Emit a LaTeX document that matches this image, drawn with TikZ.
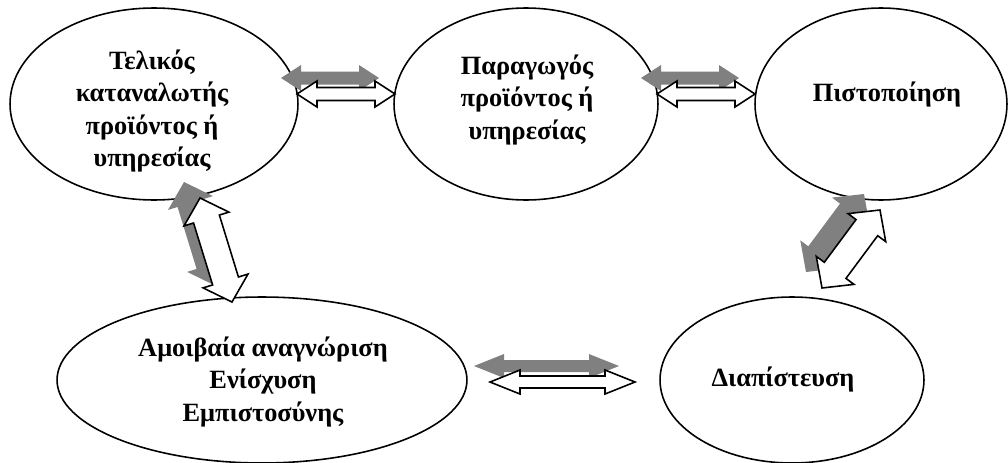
\documentclass[tikz,border=0pt]{standalone}
\usepackage{fontspec}
\setmainfont{Liberation Serif}
\usetikzlibrary{calc,positioning,shapes.geometric}

\tikzset{
  bubble/.style={draw,ellipse,line width=0.9pt,inner sep=0pt},
  lbl/.style={font=\fontsize{15}{18.5}\selectfont\bfseries,align=center},
  shade/.style={fill=black!50},
  front/.style={draw,fill=white,line width=0.9pt,line join=miter},
}

% block double arrow: #1,#2 tips, #3 head length, #4 head half width, #5 shaft half width, #6 style
\newcommand{\arrowpath}[6]{%
  \path[#6] (#1) -- ($(#1)!#3!(#2)!#4!90:(#2)$) -- ($(#1)!#3!(#2)!#5!90:(#2)$)
    -- ($(#2)!#3!(#1)!#5!-90:(#1)$) -- ($(#2)!#3!(#1)!#4!-90:(#1)$) -- (#2)
    -- ($(#2)!#3!(#1)!#4!90:(#1)$) -- ($(#2)!#3!(#1)!#5!90:(#1)$)
    -- ($(#1)!#3!(#2)!#5!-90:(#2)$) -- ($(#1)!#3!(#2)!#4!-90:(#2)$) -- cycle;}
% white arrow with its grey shadow up left
\newcommand{\blockarrow}[5]{%
  \coordinate (sa) at ($(#1)+(-0.32cm,0.32cm)$);
  \coordinate (sb) at ($(#2)+(-0.32cm,0.32cm)$);
  \arrowpath{sa}{sb}{#3}{#4}{#5}{shade}
  \arrowpath{#1}{#2}{#3}{#4}{#5}{front}}

\begin{document}
\begin{tikzpicture}[x=0.02cm,y=-0.02cm]
  \useasboundingbox (0,0) rectangle (1008,463);

  \node[bubble,minimum width=5.76cm,minimum height=3.84cm] (cons) at (154,104) {};
  \node[bubble,minimum width=5.28cm,minimum height=3.84cm] (prod) at (526,104) {};
  \node[bubble,minimum width=5.04cm,minimum height=3.84cm] (cert) at (881,104) {};
  \node[bubble,minimum width=8.2cm,minimum height=3.32cm] (mutual) at (262,380) {};
  \node[bubble,minimum width=5.28cm,minimum height=3.32cm] (accr) at (792,380) {};

  \node[lbl] (cons-t) at (152,111) {Τελικός\\καταναλωτής\\προϊόντος ή\\υπηρεσίας};
  \node[lbl] (prod-t) at (527,100) {Παραγωγός\\προϊόντος ή\\υπηρεσίας};
  \node[lbl] (cert-t) at (887,95) {Πιστοποίηση};
  \node[lbl] (mutual-t) at (263,382) {Αμοιβαία αναγνώριση\\Ενίσχυση\\Εμπιστοσύνης};
  \node[lbl] (accr-t) at (783,380) {Διαπίστευση};

  % arrow ends
  \coordinate (a1) at (297,94);  \coordinate (a2) at (395,94);
  \coordinate (b1) at (657,94);  \coordinate (b2) at (755,94);
  \coordinate (c1) at (490,382); \coordinate (c2) at (635,382);
  \coordinate (d1) at (200,198); \coordinate (d2) at (232,302);
  \coordinate (e1) at (822,288); \coordinate (e2) at (880,210);

  \blockarrow{a1}{a2}{0.4cm}{0.26cm}{0.13cm}
  \blockarrow{b1}{b2}{0.4cm}{0.26cm}{0.13cm}
  \blockarrow{c1}{c2}{0.6cm}{0.24cm}{0.12cm}
  \blockarrow{d1}{d2}{0.44cm}{0.47cm}{0.27cm}
  \blockarrow{e1}{e2}{0.44cm}{0.47cm}{0.27cm}
\end{tikzpicture}
\end{document}
